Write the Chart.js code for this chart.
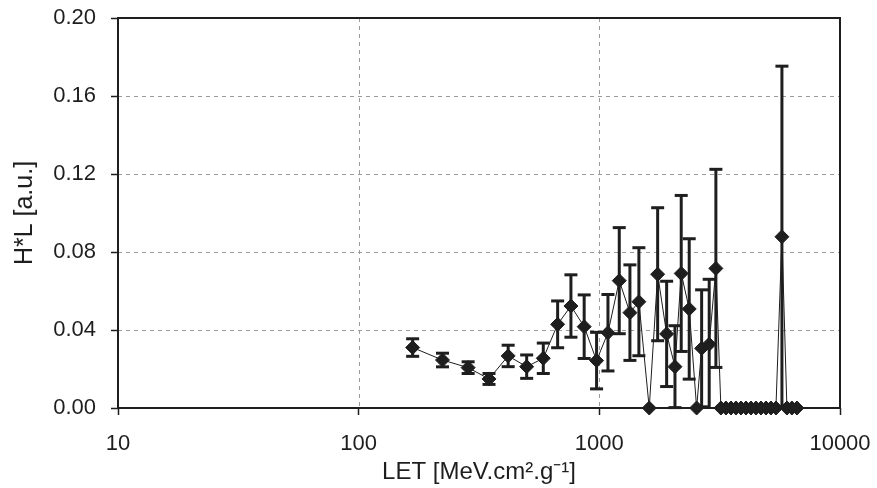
<!DOCTYPE html>
<html>
<head>
<meta charset="utf-8">
<script src="https://cdn.jsdelivr.net/npm/chart.js@4.4.0/dist/chart.umd.min.js"></script>
<style>
html,body{margin:0;padding:0;background:#fff;}
#wrap{width:877px;height:488px;position:relative;}
</style>
</head>
<body>
<div id="wrap"><canvas id="c" width="877" height="488"></canvas></div>
<script>
// LET values [MeV.cm2.g-1]
const letValues = [167.6, 223, 285, 348, 418, 499, 585, 671, 762, 865, 974, 1086, 1210, 1340, 1460, 1612, 1747, 1904, 2062, 2189, 2363, 2537, 2661, 2861, 3050,
  3200, 3357, 3523, 3695, 3876, 4066, 4265, 4473, 4693, 4923, 5163, 5417, 5737, 6018, 6310, 6622];
// H*L values [a.u.]
const hlValues = [0.0310, 0.0246, 0.0207, 0.0149, 0.0267, 0.0212, 0.0255, 0.0429, 0.0523, 0.0417, 0.0243, 0.0386, 0.0653, 0.0489, 0.0545, 0, 0.0686, 0.0380, 0.0212, 0.0690, 0.0508, 0, 0.0306, 0.0327, 0.0716,
  0, 0, 0, 0, 0, 0, 0, 0, 0, 0, 0, 0, 0.0878, 0, 0, 0];
// symmetric error bars
const hlErrors = [0.0045, 0.0035, 0.0030, 0.0028, 0.0055, 0.0060, 0.0078, 0.0120, 0.0160, 0.0163, 0.0145, 0.0196, 0.0272, 0.0245, 0.0277, 0, 0.0341, 0.0270, 0.0210, 0.0400, 0.0360, 0, 0.0300, 0.0333, 0.0508,
  0, 0, 0, 0, 0, 0, 0, 0, 0, 0, 0, 0, 0.0875, 0, 0, 0];
const xTicks = [10, 100, 1000, 10000];
const yTicks = [0, 0.04, 0.08, 0.12, 0.16, 0.20];

const FONT = "'Liberation Sans', Arial, sans-serif";
const INK = '#1e1e1e';

const framePlugin = {
  id: 'frame',
  beforeDatasetsDraw(chart) {
    const {ctx, chartArea: a, scales: {x, y}} = chart;
    ctx.save();
    ctx.strokeStyle = '#9a9a9a';
    ctx.lineWidth = 1;
    ctx.setLineDash([4, 4]);
    yTicks.forEach(v => {
      if (v <= 0 || v >= 0.2) return;
      const py = Math.round(y.getPixelForValue(v)) + 0.5;
      ctx.beginPath(); ctx.moveTo(a.left, py); ctx.lineTo(a.right, py); ctx.stroke();
    });
    xTicks.forEach(v => {
      if (v <= 10 || v >= 10000) return;
      const px = Math.round(x.getPixelForValue(v)) + 0.5;
      ctx.beginPath(); ctx.moveTo(px, a.top); ctx.lineTo(px, a.bottom); ctx.stroke();
    });
    ctx.setLineDash([]);
    // error bars
    ctx.strokeStyle = INK;
    ctx.lineWidth = 3;
    letValues.forEach((lv, i) => {
      const e = hlErrors[i];
      if (!e) return;
      const px = x.getPixelForValue(lv);
      const top = y.getPixelForValue(hlValues[i] + e);
      const bot = y.getPixelForValue(Math.max(0, hlValues[i] - e));
      ctx.beginPath(); ctx.moveTo(px, top); ctx.lineTo(px, bot); ctx.stroke();
      ctx.beginPath(); ctx.moveTo(px - 6.5, top); ctx.lineTo(px + 6.5, top); ctx.stroke();
      if (hlValues[i] - e > 0) {
        ctx.beginPath(); ctx.moveTo(px - 6.5, bot); ctx.lineTo(px + 6.5, bot); ctx.stroke();
      }
    });
    ctx.restore();
  },
  afterDraw(chart) {
    const {ctx, chartArea: a} = chart;
    ctx.save();
    ctx.strokeStyle = INK;
    ctx.lineWidth = 2;
    ctx.strokeRect(a.left, a.top, a.right - a.left, a.bottom - a.top);
    ctx.restore();
  }
};

new Chart(document.getElementById('c'), {
  type: 'line',
  data: {
    datasets: [{
      data: letValues.map((v, i) => ({x: v, y: hlValues[i]})),
      borderColor: INK,
      borderWidth: 1,
      backgroundColor: INK,
      pointStyle: 'rectRot',
      pointRadius: 7,
      pointBorderWidth: 1,
      pointBackgroundColor: INK,
      pointBorderColor: INK,
      tension: 0,
      clip: false
    }]
  },
  options: {
    responsive: false,
    animation: false,
    events: [],
    layout: {padding: {top: 18, right: 37, left: 0, bottom: 0}},
    plugins: {legend: {display: false}, tooltip: {enabled: false}},
    scales: {
      x: {
        type: 'logarithmic',
        min: 10, max: 10000,
        afterBuildTicks: s => { s.ticks = xTicks.map(v => ({value: v})); },
        afterFit: s => { s.height = 80; s.paddingLeft = 0; s.paddingRight = 0; },
        grid: {drawOnChartArea: false, drawTicks: true, tickLength: 7, tickColor: INK, tickWidth: 1.5},
        border: {display: false},
        ticks: {color: INK, font: {family: FONT, size: 22}, padding: 16, maxRotation: 0, autoSkip: false,
          callback: v => String(v)},
        title: {display: true, text: 'LET [MeV.cm\u00B2.g\u207B\u00B9]', color: INK, font: {family: FONT, size: 24}, padding: {top: 0, bottom: 1}}
      },
      y: {
        type: 'linear',
        min: 0, max: 0.2,
        afterBuildTicks: s => { s.ticks = yTicks.map(v => ({value: v})); },
        afterFit: s => { s.width = 118; s.paddingTop = 0; s.paddingBottom = 0; },
        grid: {drawOnChartArea: false, drawTicks: true, tickLength: 7, tickColor: INK, tickWidth: 1.5},
        border: {display: false},
        ticks: {color: INK, font: {family: FONT, size: 22}, padding: 15, callback: v => Number(v).toFixed(2)},
        title: {display: true, text: 'H*L [a.u.]', color: INK, font: {family: FONT, size: 25}, padding: {top: 10, bottom: 0}}
      }
    }
  },
  plugins: [framePlugin]
});
</script>
</body>
</html>
